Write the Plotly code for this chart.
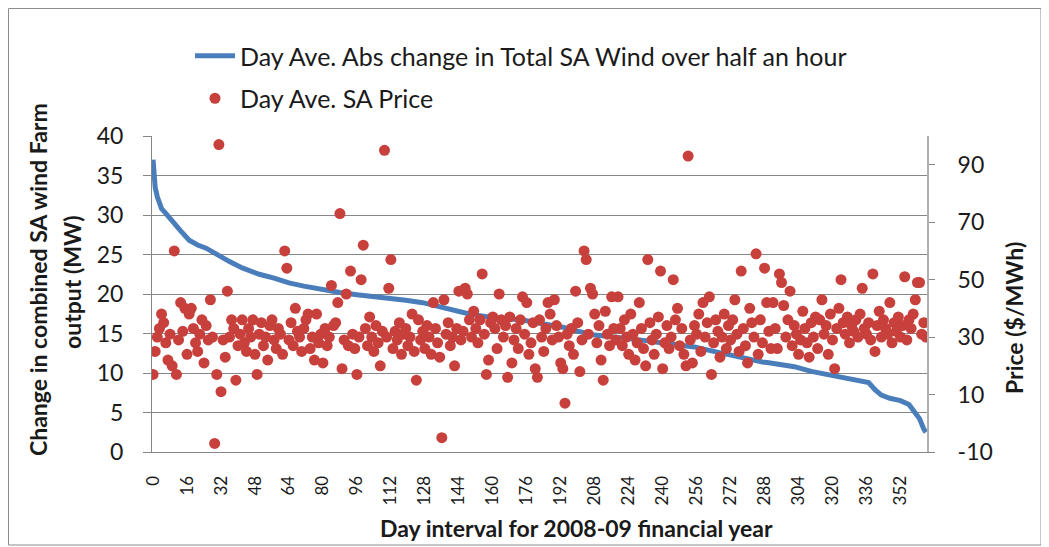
import plotly.graph_objects as go

# ---- data ----
line_days = [0, 1, 2, 4, 6, 9, 13, 17, 21, 25,
             30, 36, 42, 50, 57, 64, 71, 80, 88, 96,
             104, 111, 119, 127, 135, 143, 150, 158, 166, 174,
             184, 193, 200, 208, 216, 224, 232, 240, 248, 255,
             263, 271, 279, 287, 290, 296, 302, 310, 317, 324,
             331, 337, 340, 343, 347, 352, 356, 359, 361, 363,
             364]
wind_change = [37.0, 33.5, 32.3, 30.8, 30.2, 29.2, 28.0, 26.8, 26.2, 25.8,
               25.0, 24.1, 23.3, 22.5, 22.0, 21.4, 21.0, 20.5, 20.2, 19.9,
               19.7, 19.5, 19.2, 18.9, 18.4, 17.8, 17.4, 17.1, 16.9, 16.7,
               16.2, 15.8, 15.3, 14.8, 14.6, 14.4, 14.1, 13.8, 13.6, 13.3,
               12.8, 12.3, 11.8, 11.4, 11.3, 11.1, 10.8, 10.2, 9.8, 9.4,
               9.1, 8.8, 7.9, 7.2, 6.8, 6.5, 6.0, 5.0, 4.2, 2.9,
               2.5]

price = [
    17, 25, 30, 33, 38, 35, 28, 22, 31, 20,
    60, 17, 29, 42, 32, 40, 24, 38, 40, 33,
    28, 25, 31, 36, 21, 34, 29, 43, 30, -7,
    17, 97, 11, 29, 23, 46, 30, 36, 33, 15,
    27, 31, 36, 28, 25, 33, 30, 36, 24, 17,
    31, 35, 27, 30, 22, 34, 36, 29, 26, 33,
    31, 24, 60, 54, 29, 35, 27, 40, 32, 30,
    25, 33, 36,
    38, 26, 30, 22, 38, 28, 31,
    21, 33, 27, 30, 48, 34, 35, 42, 73, 19,
    29, 45, 27, 53, 31, 26, 17, 30, 50, 62,
    33, 27, 37, 30, 25, 34, 28, 20, 32, 95,
    30, 47, 57, 26, 32, 29, 35, 24, 31, 33,
    27, 30, 38, 25, 15, 36, 29, 32, 26, 34,
    30, 24, 42, 33, 28, 23, -5, 43, 31, 35,
    27, 30, 20, 33, 46, 29,
    32, 47, 45, 36,
    30, 39, 33, 28, 36, 52, 31, 17, 22, 35,
    37, 33, 26, 45, 36, 30, 34, 16, 37, 21,
    29, 33, 26, 36, 44, 31, 42, 24, 28, 35,
    19, 16, 36, 30, 25, 33, 42, 38, 29, 43,
    34, 30, 21, 19, 7, 31, 27, 33, 24, 46,
    35, 18, 29, 60, 57, 31, 47, 45, 38, 28,
    34, 22, 15, 39, 31, 27, 44, 33, 29,
    44,
    33, 27, 36, 30, 24, 38, 31, 22, 28, 42,
    33, 26, 20, 57, 35, 29, 24, 31, 37, 53,
    19, 28, 34, 26, 30, 50, 36, 40, 27, 33,
    24, 20, 93, 29, 21, 34, 31, 38, 25, 42,
    30, 35, 44, 17, 28, 36, 32, 23, 30, 38,
    26, 34, 29, 36, 43, 31, 25, 53, 33, 27,
    21, 40, 35, 30, 59, 24, 36, 28, 54, 42,
    32, 26,
    42, 33, 26, 52, 49, 41, 30, 36,
    46, 27, 34, 31, 24, 29, 39, 33, 28, 23,
    35, 30, 37, 26, 36, 43, 31, 34, 24, 38,
    29, 19, 33, 40, 50, 35, 31, 37, 28, 34,
    32, 36, 30, 38, 47, 33, 31, 35, 29, 52,
    25, 34, 39, 30, 36, 33, 31, 42, 28, 35,
    32, 37, 30, 34, 51, 29, 36, 33, 38, 43,
    49, 49, 31, 35, 30,
]
price_days = list(range(len(price)))

x_ticks = list(range(0, 353, 16))
left_ticks = [0, 5, 10, 15, 20, 25, 30, 35, 40]
right_ticks = [-10, 10, 30, 50, 70, 90]
right_labels = ["-10", "10", "30", "50", "70", "90"]

# ---- geometry (pixels, in screenshot coordinates) ----
OFF = 8  # the page body adds an 8px margin
W, H = 1049 - OFF, 547 - OFF
L, R, T, B = 152, 927, 136, 452
PW, PH = R - L, B - T


def px(x):
    return (x - L) / PW


def py(y):
    return (B - y) / PH


FONT = "Lato, 'Open Sans', sans-serif"
TXT = "#1a1a1a"

fig = go.Figure()
fig.add_trace(go.Scatter(
    x=line_days, y=wind_change, mode="lines",
    name="Day Ave. Abs change in Total SA Wind over half an hour",
    line=dict(color="#4a7ebb", width=5),
    legendgroup="a", yaxis="y",
))
fig.add_trace(go.Scatter(
    x=price_days, y=price, mode="markers",
    name="Day Ave. SA Price",
    marker=dict(color="#c8403c", size=11, line=dict(width=0)),
    legendgroup="b", yaxis="y2",
))

fig.update_layout(
    width=W, height=H,
    margin=dict(l=L - OFF, r=1049 - R, t=T - OFF, b=547 - B, pad=0,
                autoexpand=False),
    paper_bgcolor="white", plot_bgcolor="white",
    font=dict(family=FONT, color=TXT),
    showlegend=True,
    legend=dict(
        x=px(190), y=py(33), xanchor="left", yanchor="top",
        font=dict(size=25, family=FONT, color=TXT),
        bgcolor="rgba(0,0,0,0)", tracegroupgap=7,
        itemwidth=40,
    ),
    xaxis=dict(
        range=[-0.5, 364.5], tickmode="array", tickvals=x_ticks,
        ticktext=[str(v) for v in x_ticks], tickangle=-90,
        tickfont=dict(size=17), showgrid=False, zeroline=False,
        showline=True, linecolor="#868686", linewidth=1,
        ticks="", ticklabelstandoff=16,
    ),
    yaxis=dict(
        range=[0, 40], tickmode="array", tickvals=left_ticks,
        tickfont=dict(size=23), showgrid=True, gridcolor="#868686",
        gridwidth=1, zeroline=False, showline=True, linecolor="#868686",
        ticks="outside", ticklen=8, tickcolor="#868686",
        ticklabelstandoff=15,
    ),
    yaxis2=dict(
        range=[-10, 100], tickmode="array", tickvals=right_ticks,
        ticktext=right_labels,
        overlaying="y", side="right", tickfont=dict(size=23),
        showgrid=False, zeroline=False, showline=True,
        linecolor="#b0b0b0", linewidth=2,
        ticks="outside", ticklen=6, tickcolor="#868686",
        ticklabelstandoff=18,
    ),
    annotations=[
        dict(text="<b>Change in combined SA wind Farm</b>", x=px(38), y=py(280),
             xref="paper", yref="paper", textangle=-90, showarrow=False,
             xanchor="center", yanchor="middle",
             font=dict(size=23, family=FONT, color=TXT)),
        dict(text="<b>output (MW)</b>", x=px(72), y=py(283),
             xref="paper", yref="paper", textangle=-90, showarrow=False,
             xanchor="center", yanchor="middle",
             font=dict(size=23, family=FONT, color=TXT)),
        dict(text="<b>Price ($/MWh)</b>", x=px(1014), y=py(318),
             xref="paper", yref="paper", textangle=-90, showarrow=False,
             xanchor="center", yanchor="middle",
             font=dict(size=23, family=FONT, color=TXT)),
        dict(text="<b>Day interval for 2008-09 financial year</b>", x=px(576), y=py(528),
             xref="paper", yref="paper", showarrow=False,
             xanchor="center", yanchor="middle",
             font=dict(size=23, family=FONT, color=TXT)),
    ],
    shapes=[
        dict(type="rect", xref="paper", yref="paper",
             x0=px(8.5), x1=px(1041), y0=py(545), y1=py(8.5),
             line=dict(color="#8c8c8c", width=1), fillcolor="rgba(0,0,0,0)",
             layer="below"),
    ],
)

fig.write_html("out.html")
